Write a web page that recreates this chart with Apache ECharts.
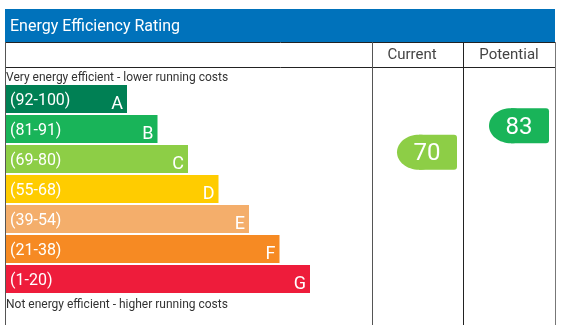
<!DOCTYPE html>
<html>
<head>
<meta charset="utf-8">
<script src="https://cdn.jsdelivr.net/npm/echarts@6/dist/echarts.min.js"></script>
<style>html,body{margin:0;padding:0;background:#fff}#c{width:566px;height:325px}</style>
</head>
<body>
<div id="c"></div>
<script>
// ---- data ----
var bandLetters = ['A', 'B', 'C', 'D', 'E', 'F', 'G'];
var bandRanges = ['(92-100)', '(81-91)', '(69-80)', '(55-68)', '(39-54)', '(21-38)', '(1-20)'];
var bandMin = [92, 81, 69, 55, 39, 21, 1];
var bandLength = [4, 5, 6, 7, 8, 9, 10];
var bandColors = ['#008054', '#19b459', '#8dce46', '#ffcc00', '#f4ae6b', '#f68a23', '#ee1c3b'];
var currentRating = [70];
var potentialRating = [83];
var columnHeaders = ['Current', 'Potential'];
var titleText = 'Energy Efficiency Rating';
var topNote = 'Very energy efficient - lower running costs';
var bottomNote = 'Not energy efficient - higher running costs';

function bandColor(v) {
  for (var i = 0; i < bandMin.length; i++) if (v >= bandMin[i]) return bandColors[i];
  return bandColors[bandColors.length - 1];
}

var FONT = 'Roboto';
var chart = echarts.init(document.getElementById('c'), null, { renderer: 'canvas' });

function markerRender(params, api) {
  var v = api.value(1);
  var p = api.coord([1, v]);
  var R = p[0] - 6, W = 60, H = 35, L = R - W, m = p[1], rx = 22;
  var col = bandColor(v);
  return {
    type: 'group',
    children: [
      { type: 'ellipse', shape: { cx: L + rx, cy: m, rx: rx, ry: H / 2 }, style: { fill: col } },
      { type: 'rect', shape: { x: L + rx, y: m - H / 2, width: W - rx, height: H, r: [0, 3, 3, 0] }, style: { fill: col } },
      { type: 'text', style: { text: String(v), x: L + W / 2, y: m + 2, align: 'center', verticalAlign: 'middle', fill: '#fff', fontSize: 24, fontFamily: FONT } }
    ]
  };
}

function vline(x, y1, y2, c) { return { type: 'line', z: 100, shape: { x1: x, y1: y1, x2: x, y2: y2 }, style: { stroke: c || '#333', lineWidth: 1 } }; }
function hline(y, x1, x2, c) { return { type: 'line', z: 100, shape: { x1: x1, y1: y, x2: x2, y2: y }, style: { stroke: c || '#222', lineWidth: 1 } }; }

var option = {
  animation: false,
  grid: [
    { left: 5, top: 84, width: 305, height: 210 },
    { left: 372, top: 91, width: 91, height: 204 },
    { left: 463, top: 91, width: 92, height: 204 }
  ],
  xAxis: [
    { gridIndex: 0, type: 'value', min: 0, max: 10, show: false },
    { gridIndex: 1, type: 'value', min: 0, max: 1, show: false },
    { gridIndex: 2, type: 'value', min: 0, max: 1, show: false }
  ],
  yAxis: [
    { gridIndex: 0, type: 'category', data: bandLetters, inverse: true, show: false },
    { gridIndex: 1, type: 'value', min: 0, max: 100, show: false },
    { gridIndex: 2, type: 'value', min: 0, max: 100, show: false }
  ],
  graphic: [
    { type: 'rect', shape: { x: 5, y: 9, width: 550, height: 33 }, style: { fill: '#0072bb' } },
    { type: 'text', style: { text: titleText, x: 10, y: 27, verticalAlign: 'middle', fill: '#fff', fontSize: 16, fontFamily: FONT } },
    hline(42.5, 5, 556),
    hline(67.5, 5, 556),
    vline(5.5, 42, 325, '#555'),
    vline(372.5, 42, 325, '#555'),
    vline(463.5, 42, 325, '#222'),
    vline(555.5, 42, 325, '#777'),
    { type: 'text', style: { text: columnHeaders[0], x: 412, y: 55, align: 'center', verticalAlign: 'middle', fill: '#444', fontSize: 15, fontFamily: FONT } },
    { type: 'text', style: { text: columnHeaders[1], x: 509, y: 55, align: 'center', verticalAlign: 'middle', fill: '#444', fontSize: 15, fontFamily: FONT } },
    { type: 'text', style: { text: topNote, x: 6, y: 78, verticalAlign: 'middle', fill: '#333', fontSize: 12, fontFamily: FONT } },
    { type: 'text', style: { text: bottomNote, x: 6, y: 305, verticalAlign: 'middle', fill: '#333', fontSize: 12, fontFamily: FONT } }
  ],
  series: [
    {
      type: 'bar', xAxisIndex: 0, yAxisIndex: 0, barWidth: 28,
      data: bandLength.map(function (v, i) { return { value: v, itemStyle: { color: bandColors[i] } }; }),
      label: { show: true, position: 'insideLeft', distance: 5, offset: [0, 2], color: '#fff', fontSize: 16, fontFamily: FONT,
        formatter: function (p) { return bandRanges[p.dataIndex]; } }
    },
    {
      type: 'bar', xAxisIndex: 0, yAxisIndex: 0, barWidth: 28, barGap: '-100%',
      data: bandLength.slice(),
      itemStyle: { color: 'rgba(0,0,0,0)' },
      label: { show: true, position: 'insideRight', distance: 4, offset: [0, 5], color: '#fff', fontSize: 18, fontFamily: FONT,
        formatter: function (p) { return bandLetters[p.dataIndex]; } }
    },
    { type: 'custom', xAxisIndex: 1, yAxisIndex: 1, data: currentRating.map(function (v) { return [1, v]; }), renderItem: markerRender },
    { type: 'custom', xAxisIndex: 2, yAxisIndex: 2, data: potentialRating.map(function (v) { return [1, v]; }), renderItem: markerRender }
  ]
};
chart.setOption(option);
</script>
</body>
</html>
